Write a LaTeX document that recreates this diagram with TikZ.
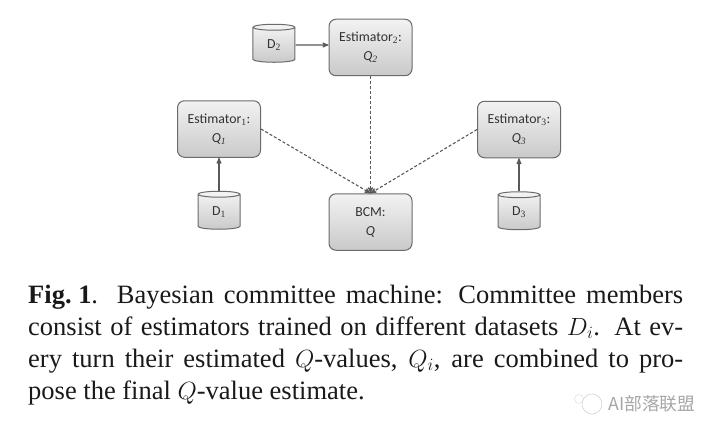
\documentclass[tikz,border=0pt]{standalone}
\usepackage{fontspec}
\setmainfont{Liberation Serif}
\newfontfamily\boxfont{Carlito}
\newfontfamily\cjkfont{Noto Sans CJK SC}
\usetikzlibrary{positioning, arrows, shapes.geometric}

\definecolor{edgegray}{gray}{0.42}
\definecolor{labelgray}{gray}{0.2}

\tikzset{
	estimator/.style={draw=edgegray, line width=1pt, rounded corners=7pt, top color=gray!10, bottom color=gray!42,
		minimum width=83pt, minimum height=56.5pt, align=center, inner sep=0pt, text=labelgray, font=\boxfont\fontsize{13.8}{19}\selectfont},
	dataset/.style={draw=edgegray, line width=1pt, shape=cylinder, shape border rotate=90, aspect=0.43, top color=gray!8, bottom color=gray!42,
		minimum width=42pt, minimum height=38pt, inner sep=0pt, text=labelgray, font=\boxfont\fontsize{13.8}{15}\selectfont},
	feed/.style={->, >=stealth', draw=black!65, line width=1.1pt},
	vote/.style={->, >=stealth', draw=black!65, line width=1.1pt, dash pattern=on 3pt off 2pt},
	captionline/.style={anchor=base west, inner sep=0pt, font=\fontsize{26.5}{30}\selectfont, text=black!90}
}

\begin{document}
\begin{tikzpicture}[x=1pt, y=-1pt, node distance=33pt]
	\useasboundingbox (0,0) rectangle (720,436);

	\node[estimator] (est2) at (370.5,47.5) {Estimator$_{\mathrm{2}}$:\\ \textit{Q$_{\mathit{2}}$}};
	\node[estimator] (est1) at (219,129) {Estimator$_{\mathrm{1}}$:\\ \textit{Q$_{\mathit{1}}$}};
	\node[estimator] (est3) at (519,129.5) {Estimator$_{\mathrm{3}}$:\\ \textit{Q$_{\mathit{3}}$}};
	\node[estimator] (bcm) at (370.5,222) {BCM:\\ \textit{Q}};

	\node[dataset, left=33pt of est2, yshift=2.5pt] (d2) {D$_{\mathrm{2}}$};
	\node[dataset, below=of est1] (d1) {D$_{\mathrm{1}}$};
	\node[dataset, below=of est3] (d3) {D$_{\mathrm{3}}$};

	\draw[feed] (d2) -- (d2 -| est2.west);
	\draw[feed] (d1) -- (est1);
	\draw[feed] (d3) -- (est3);

	\draw[vote] (est2) -- (bcm);
	\draw[vote] (est1.east) -- (bcm.north);
	\draw[vote] (est3.west) -- (bcm.north);

	\node[captionline] (line1) at (28,303) {\makebox[655pt][s]{\textbf{Fig.\kern0.25em 1}. Bayesian committee machine: Committee members}};
	\node[captionline] (line2) at (28,335) {\makebox[655pt][s]{consist of estimators trained on different datasets $D_i$. At ev-}};
	\node[captionline] (line3) at (28,367) {\makebox[655pt][s]{ery turn their estimated $Q$-values, $Q_i$, are combined to pro-}};
	\node[captionline] (line4) at (28,399) {pose the final $Q$-value estimate.};

	% watermark
	\node[circle, draw=gray!40, line width=0.5pt, minimum size=20pt, inner sep=0pt] (bubble) at (592,404) {};
	\node[circle, draw=gray!30, line width=0.4pt, minimum size=9pt, inner sep=0pt] (bubblesmall) at (579,399) {};
	\node[anchor=west, inner sep=0pt, text=gray!70, font=\cjkfont\fontsize{17.8}{20}\selectfont] (mark) at (608,404) {AI部落联盟};
\end{tikzpicture}
\end{document}
